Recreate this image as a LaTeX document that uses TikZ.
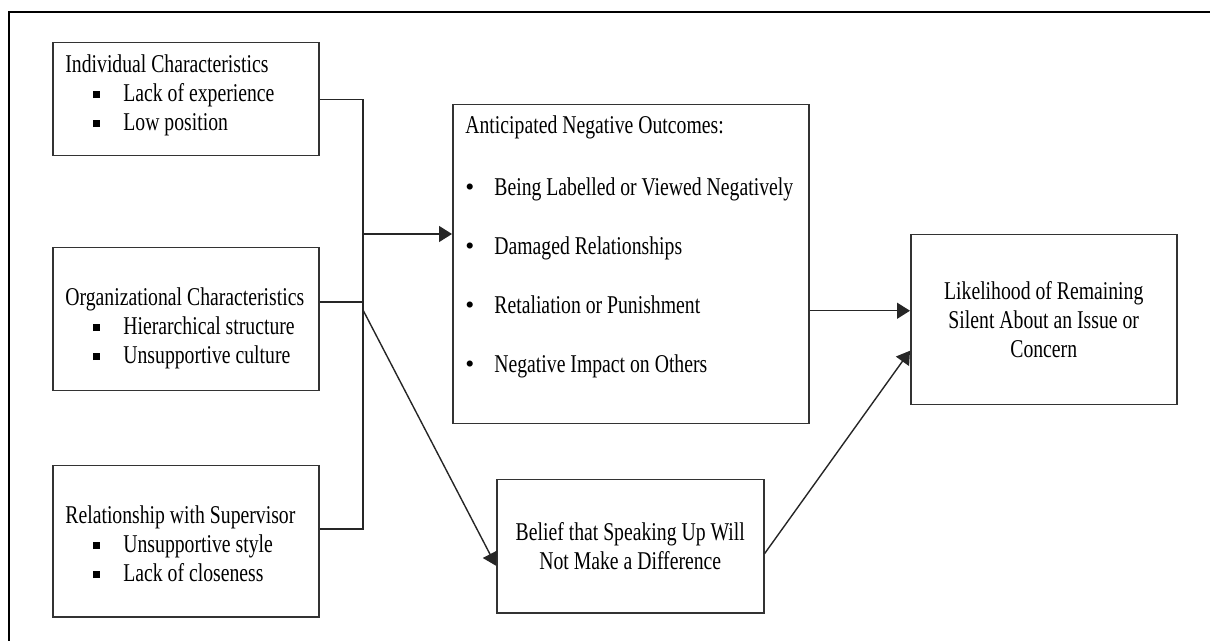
\documentclass[tikz,border=0pt]{standalone}
\usepackage{fontspec}
\setmainfont{Liberation Serif}[FakeStretch=0.77]
\newfontfamily\bulletfont{Liberation Serif}
\usetikzlibrary{arrows.meta}
\newcommand{\sqitem}[1]{\makebox[29pt][l]{\hspace{14pt}\rule[1.5pt]{3.5pt}{3.5pt}}#1}
\newcommand{\dotitem}[1]{\makebox[14.5pt][l]{{\bulletfont\textbullet}}#1}

\begin{document}
\begin{tikzpicture}[x=0.5pt, y=-0.5pt,
			box/.style={draw=black!80, line width=0.75pt, inner sep=0pt, anchor=north west, align=center, font=\fontsize{12.8}{14.5}\selectfont},
			txt/.style={inner sep=0pt, anchor=north west, align=left, font=\fontsize{12.8}{14.5}\selectfont},
			wire/.style={line width=0.7pt, black!85},
			arr/.style={wire, -{Triangle[length=6.5pt, width=8pt]}},
			frame/.style={line width=1.1pt}]
			\useasboundingbox (0,0) rectangle (1210,641);
			\draw[frame] (1210,12) -- (9,12) -- (9,641);
			\node[box, minimum width=133pt, minimum height=56.5pt] (ind) at (52,42) {};
			\node[box, minimum width=133pt, minimum height=71.5pt] (org) at (52,247) {};
			\node[box, minimum width=133pt, minimum height=75.5pt] (sup) at (52,465) {};
			\node[box, minimum width=178pt, minimum height=159.5pt] (ano) at (452,104) {};
			\node[box, minimum width=133.5pt, minimum height=66.5pt] (bel) at (496,479) {Belief that Speaking Up Will\\Not Make a Difference};
			\node[box, minimum width=133pt, minimum height=85pt] (lik) at (910,234) {Likelihood of Remaining\\Silent About an Issue or\\Concern};
			\node[txt] (indtxt) at ([xshift=6.5pt, yshift=-6pt]ind.north west) {Individual Characteristics\\\sqitem{Lack of experience}\\\sqitem{Low position}};
			\node[txt] (orgtxt) at ([xshift=6.5pt, yshift=-20pt]org.north west) {Organizational Characteristics\\\sqitem{Hierarchical structure}\\\sqitem{Unsupportive culture}};
			\node[txt] (suptxt) at ([xshift=6.5pt, yshift=-20pt]sup.north west) {Relationship with Supervisor\\\sqitem{Unsupportive style}\\\sqitem{Lack of closeness}};
			\node[txt] (anotxt) at ([xshift=6.5pt, yshift=-5.5pt]ano.north west) {Anticipated Negative Outcomes:\\[16.5pt]
				\dotitem{Being Labelled or Viewed Negatively}\\[15pt]
				\dotitem{Damaged Relationships}\\[15pt]
				\dotitem{Retaliation or Punishment}\\[15pt]
				\dotitem{Negative Impact on Others}};
			\coordinate (busB) at (363,529);
			\coordinate (orgJ) at (363,302);
			\coordinate (tapA) at (363,234);
			\coordinate (tapB) at (363,310);
			\draw[wire] (ind.east) -- (ind.east -| busB) -- (busB) -- (busB -| sup.east);
			\draw[wire] (orgJ -| org.east) -- (orgJ);
			\draw[arr] (tapA) -- (tapA -| ano.west);
			\draw[arr] (tapB) -- ([yshift=-9.75pt]bel.west);
			\draw[arr] ([yshift=-23.25pt]ano.east) -- ([yshift=-23.25pt]ano.east -| lik.west);
			\draw[arr] ([yshift=-3.75pt]bel.east) -- ([yshift=-15.5pt]lik.west);
		\end{tikzpicture}
\end{document}
